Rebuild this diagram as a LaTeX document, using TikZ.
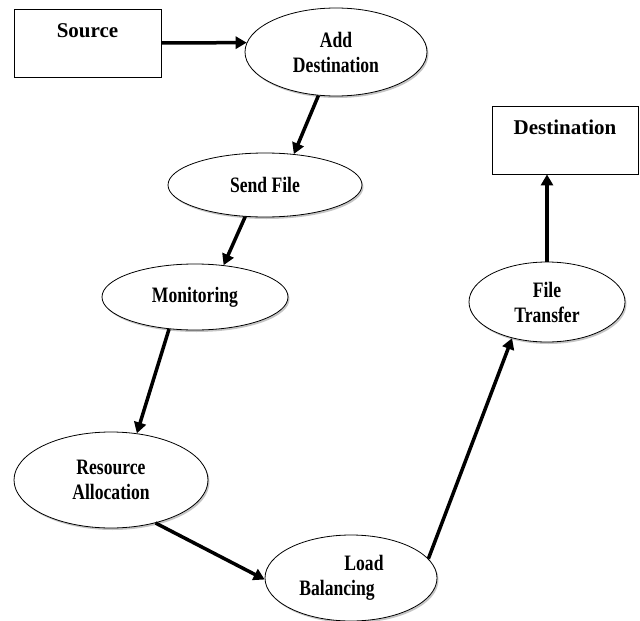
\documentclass[tikz,border=0pt]{standalone}
\usepackage{fontspec}
\setmainfont{Liberation Serif}[FakeStretch=0.8]
\newfontfamily\boxfont{Liberation Serif}
\usetikzlibrary{shapes.geometric,arrows.meta,shadows}

\begin{document}
\begin{tikzpicture}[x=1pt, y=-1pt,
    every node/.style={font=\bfseries\fontsize{22}{25}\selectfont, align=center},
    box/.style={draw, line width=0.8pt, minimum width=147pt, minimum height=68pt, inner sep=0pt,
      font=\boxfont\bfseries\fontsize{21}{25}\selectfont},
    oval/.style={draw, ellipse, line width=0.8pt, inner sep=0pt, fill=white,
      drop shadow={shadow xshift=1.5pt, shadow yshift=-2pt, fill=black!45}},
    arr/.style={line width=3.5pt, -{Triangle[length=11pt,width=12pt]}}]
    \useasboundingbox (0,0) rectangle (640,621);

    \node[box] (src) at (87.5,43) {Source\\~};
    \node[box, minimum width=146pt] (dst) at (565,140) {Destination\\~};

    \node[oval, minimum width=182pt, minimum height=88pt] (add) at (336,52) {Add\\Destination};
    \node[oval, minimum width=194pt, minimum height=64pt] (send) at (265,185) {Send File};
    \node[oval, minimum width=186pt, minimum height=66pt] (mon) at (195,297) {Monitoring};
    \node[oval, minimum width=194pt, minimum height=96pt] (res) at (111,480) {Resource\\Allocation};
    \node[oval, minimum width=172pt, minimum height=86pt] (load) at (351,578) {\hspace*{26pt}Load\\Balancing\hspace*{28pt}};
    \node[oval, minimum width=156pt, minimum height=80pt] (ft) at (547,302) {File\\Transfer};

    \draw[arr] (src.east) -- (add.174);
    \draw[arr] (add.248) -- (send.47);
    \draw[arr] (send.238) -- (mon.48);
    \draw[arr] (mon.231) -- (res.61);
    \draw[arr] (res.316) -- (load.181);
    \draw[arr] (load.14) -- (ft.226);
    \draw[arr] (ft.north) -- (ft.north |- dst.south);
  \end{tikzpicture}
\end{document}
